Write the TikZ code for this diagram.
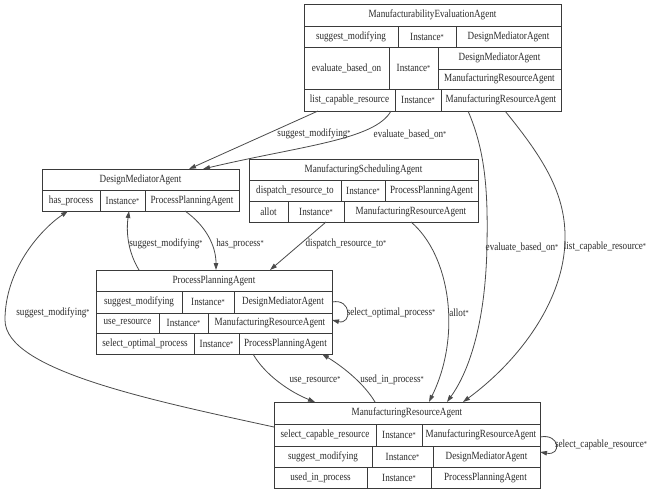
\documentclass[tikz,border=0pt]{standalone}
\usepackage{fontspec}
\setmainfont{Liberation Serif}[FakeStretch=0.83]
\usetikzlibrary{arrows.meta,calc}
\definecolor{bordercol}{HTML}{3A3A3A}
\definecolor{edgecol}{HTML}{4A4A4A}
\definecolor{textcol}{HTML}{2A2A2A}
\newcommand{\sstar}{{\fontsize{7.5}{7.5}\selectfont\raisebox{0.8pt}{*}}}
\newcommand{\tcell}[6]{\node[cellbox, minimum width={(#4-#2)*1pt}, minimum height={(#5-#3)*1pt}] (#1) at ({(#2+#4)/2},{(#3+#5)/2}) {#6};}
\newcommand{\ttable}[5]{\node[tablebox, minimum width={(#4-#2)*1pt}, minimum height={(#5-#3)*1pt}] (#1) at ({(#2+#4)/2},{(#3+#5)/2}) {};}
\begin{document}
\begin{tikzpicture}[x=1pt,y=-1pt,
  cellbox/.style={draw=bordercol, line width=0.9pt, inner sep=0pt, outer sep=0pt, font=\fontsize{11}{12}\selectfont, text=textcol},
  tablebox/.style={draw=bordercol, line width=0.9pt, inner sep=0pt, outer sep=0pt},
  edge/.style={draw=edgecol, line width=0.8pt, -{Triangle[length=7pt,width=4.5pt]}},
  elabel/.style={font=\fontsize{11}{12}\selectfont, text=textcol, inner sep=0pt}]
\useasboundingbox (0,0) rectangle (650,491);
\fill[white] (0,0) rectangle (650,491);

% ManufacturabilityEvaluationAgent
\ttable{mea}{304}{4}{561}{111}
\tcell{meaH}{304}{4}{561}{26}{ManufacturabilityEvaluationAgent}
\tcell{mea1a}{304}{26}{398}{47}{suggest\_modifying}
\tcell{mea1b}{398}{26}{456}{47}{Instance\sstar}
\tcell{mea1c}{456}{26}{561}{47}{DesignMediatorAgent}
\tcell{mea2a}{304}{47}{389}{89}{evaluate\_based\_on}
\tcell{mea2b}{389}{47}{438}{89}{Instance\sstar}
\tcell{mea2c}{438}{47}{561}{69}{DesignMediatorAgent}
\tcell{mea2d}{438}{69}{561}{89}{ManufacturingResourceAgent}
\tcell{mea3a}{304}{89}{395}{111}{list\_capable\_resource}
\tcell{mea3b}{395}{89}{441}{111}{Instance\sstar}
\tcell{mea3c}{441}{89}{561}{111}{ManufacturingResourceAgent}

% DesignMediatorAgent
\ttable{dma}{42}{169}{239}{211}
\tcell{dmaH}{42}{169}{239}{190}{DesignMediatorAgent}
\tcell{dma1a}{42}{190}{100}{211}{has\_process}
\tcell{dma1b}{100}{190}{145}{211}{Instance\sstar}
\tcell{dma1c}{145}{190}{239}{211}{ProcessPlanningAgent}

% ManufacturingSchedulingAgent
\ttable{msa}{249}{159}{478}{222}
\tcell{msaH}{249}{159}{478}{180}{ManufacturingSchedulingAgent}
\tcell{msa1a}{249}{180}{341}{201}{dispatch\_resource\_to}
\tcell{msa1b}{341}{180}{385}{201}{Instance\sstar}
\tcell{msa1c}{385}{180}{478}{201}{ProcessPlanningAgent}
\tcell{msa2a}{249}{201}{288}{222}{allot}
\tcell{msa2b}{288}{201}{344}{222}{Instance\sstar}
\tcell{msa2c}{344}{201}{478}{222}{ManufacturingResourceAgent}

% ProcessPlanningAgent
\ttable{ppa}{96}{270}{332}{354}
\tcell{ppaH}{96}{270}{332}{291}{ProcessPlanningAgent}
\tcell{ppa1a}{96}{291}{182}{313}{suggest\_modifying}
\tcell{ppa1b}{182}{291}{234}{313}{Instance\sstar}
\tcell{ppa1c}{234}{291}{332}{313}{DesignMediatorAgent}
\tcell{ppa2a}{96}{313}{159}{333}{use\_resource}
\tcell{ppa2b}{159}{313}{208}{333}{Instance\sstar}
\tcell{ppa2c}{208}{313}{332}{333}{ManufacturingResourceAgent}
\tcell{ppa3a}{96}{333}{194}{354}{select\_optimal\_process}
\tcell{ppa3b}{194}{333}{239}{354}{Instance\sstar}
\tcell{ppa3c}{239}{333}{332}{354}{ProcessPlanningAgent}

% ManufacturingResourceAgent
\ttable{mra}{274}{402}{540}{488}
\tcell{mraH}{274}{402}{540}{424}{ManufacturingResourceAgent}
\tcell{mra1a}{274}{424}{376}{446}{select\_capable\_resource}
\tcell{mra1b}{376}{424}{422}{446}{Instance\sstar}
\tcell{mra1c}{422}{424}{540}{446}{ManufacturingResourceAgent}
\tcell{mra2a}{274}{446}{372}{467}{suggest\_modifying}
\tcell{mra2b}{372}{446}{433}{467}{Instance\sstar}
\tcell{mra2c}{433}{446}{540}{467}{DesignMediatorAgent}
\tcell{mra3a}{274}{467}{367}{488}{used\_in\_process}
\tcell{mra3b}{367}{467}{431}{488}{Instance\sstar}
\tcell{mra3c}{431}{467}{540}{488}{ProcessPlanningAgent}

% Edges
\draw[edge] ([xshift=14pt]mea.south west) -- ([xshift=147pt]dma.north west)
  node[elabel, at={(314,134)}] {suggest\_modifying\sstar};
\draw[edge] ([xshift=87pt]mea.south west) .. controls (375,140) and (300,146) .. ([xshift=161pt]dma.north west)
  node[elabel, at={(410,134)}] {evaluate\_based\_on\sstar};
\draw[edge] ([xshift=164pt]mea.south west) .. controls (485,150) and (488,190) .. (487,243)
  .. controls (486,320) and (470,370) .. ([xshift=173pt]mra.north west)
  node[elabel, at={(522,247)}] {evaluate\_based\_on\sstar};
\draw[edge] ([xshift=201pt]mea.south west) .. controls (545,160) and (566,195) .. (565,240)
  .. controls (564,300) and (520,360) .. ([xshift=189pt]mra.north west)
  node[elabel, at={(605,247)}] {list\_capable\_resource\sstar};
\draw[edge] ([xshift=162pt]msa.south west) .. controls (450,255) and (462,335) .. ([xshift=155pt]mra.north west)
  node[elabel, at={(459,313)}] {allot\sstar};
\draw[edge] ([xshift=77pt]msa.south west) -- ([xshift=174pt]ppa.north west)
  node[elabel, at={(346,244)}] {dispatch\_resource\_to\sstar};
\draw[edge] ([xshift=43pt]ppa.north west) .. controls (128,252) and (126,232) .. ([xshift=87pt]dma.south west)
  node[elabel, at={(166,244)}] {suggest\_modifying\sstar};
\draw[edge] ([xshift=143pt]dma.south west) .. controls (205,225) and (216,245) .. ([xshift=120pt]ppa.north west)
  node[elabel, at={(240,244)}] {has\_process\sstar};
\draw[edge] ([yshift=-25pt]mra.north west) .. controls (150,400) and (5,370) .. (5,320)
  .. controls (5,270) and (40,230) .. ([xshift=26pt]dma.south west)
  node[elabel, at={(53,313)}] {suggest\_modifying\sstar};
\draw[edge] ([yshift=-32pt]ppa.north east) .. controls (352,298) and (352,325) .. ([yshift=-50pt]ppa.north east)
  node[elabel, at={(391,313)}] {select\_optimal\_process\sstar};
\draw[edge] ([xshift=157pt]ppa.south west) .. controls (265,375) and (290,392) .. ([xshift=41pt]mra.north west)
  node[elabel, at={(315,380)}] {use\_resource\sstar};
\draw[edge] ([xshift=101pt]mra.north west) .. controls (365,385) and (345,368) .. ([xshift=226pt]ppa.south west)
  node[elabel, at={(392,380)}] {used\_in\_process\sstar};
\draw[edge] ([yshift=-35pt]mra.north east) .. controls (560,433) and (562,456) .. ([yshift=-50pt]mra.north east)
  node[elabel, at={(601,445)}] {select\_capable\_resource\sstar};
\end{tikzpicture}
\end{document}
